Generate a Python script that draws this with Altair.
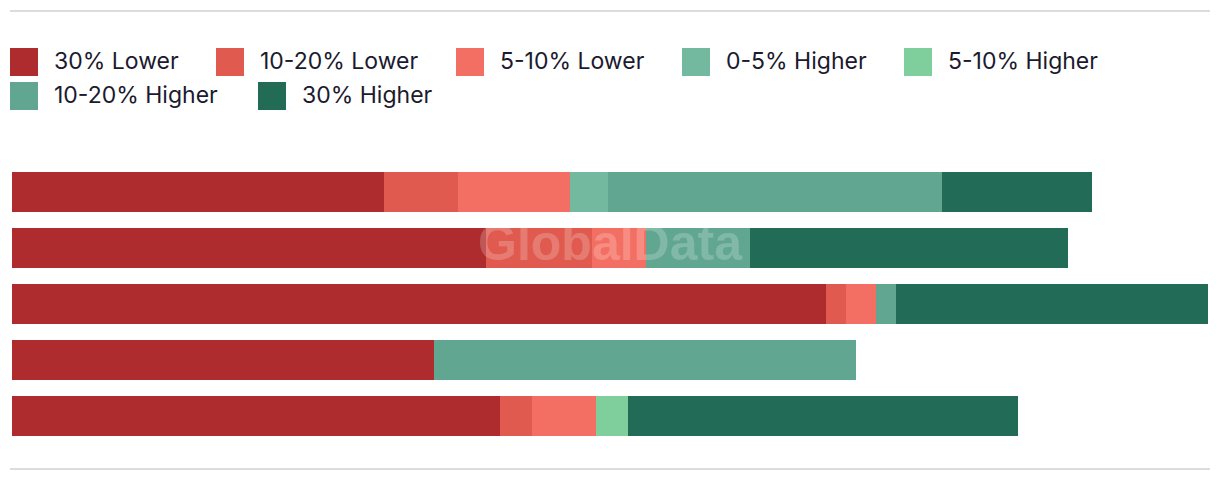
import altair as alt
import pandas as pd

# ---- data ----
rows = ["Group 1", "Group 2", "Group 3", "Group 4", "Group 5"]
series = ["30% Lower", "10-20% Lower", "5-10% Lower", "0-5% Higher",
          "5-10% Higher", "10-20% Higher", "30% Higher"]
colors = ["#AF2C2E", "#E05A4F", "#F46F63", "#72B9A0",
          "#7FCF9C", "#61A690", "#226B57"]

lower30 = [37.2, 47.4, 81.4, 42.2, 48.8]
lower10_20 = [7.4, 10.6, 2.0, 0.0, 3.2]
lower5_10 = [11.2, 5.4, 3.0, 0.0, 6.4]
higher0_5 = [3.8, 0.0, 0.0, 0.0, 0.0]
higher5_10 = [0.0, 0.0, 0.0, 0.0, 3.2]
higher10_20 = [33.4, 10.4, 2.0, 42.2, 0.0]
higher30 = [15.0, 31.8, 31.2, 0.0, 39.0]

watermark = ["GlobalData"]

values_by_series = [lower30, lower10_20, lower5_10, higher0_5,
                    higher5_10, higher10_20, higher30]

recs = []
for si, (s, vals) in enumerate(zip(series, values_by_series)):
    for r, v in zip(rows, vals):
        recs.append({"row": r, "series": s, "order": si, "value": v})
df = pd.DataFrame(recs)
max_total = df.groupby("row")["value"].sum().max()

W, H = 1196, 280
FONT = "Inter"
FS = 23

yenc = alt.Y("row:N", sort=rows, axis=None,
             scale=alt.Scale(paddingInner=16 / 56, paddingOuter=8 / 56))
xscale = alt.Scale(domain=[0, max_total], nice=False, zero=True)

base = alt.Chart(df).transform_window(
    end="sum(value)", groupby=["row"],
    sort=[alt.SortField("order")], frame=[None, 0],
).transform_calculate(start="datum.end - datum.value").transform_filter(
    "datum.value > 0")

legend_common = dict(
    title=None, orient="none", direction="horizontal", columns=5,
    symbolType="square", symbolSize=784, symbolStrokeWidth=0,
    symbolOpacity=1, labelFont=FONT, labelFontSize=FS,
    labelColor="#1b1a2e", labelOffset=16, rowPadding=6, padding=0,
    labelLimit=400,
)

bars_a = base.transform_filter("datum.order < 5").transform_calculate(
    lo="datum.series").mark_bar().encode(
    y=yenc,
    x=alt.X("start:Q", axis=None, scale=xscale),
    x2="end:Q",
    color=alt.Color(
        "lo:N",
        scale=alt.Scale(domain=series[:5], range=colors[:5]),
        legend=alt.Legend(legendX=-2, legendY=-116, columnPadding=37,
                          **legend_common),
    ),
)

bars_b = base.transform_filter("datum.order >= 5").transform_calculate(
    hi="datum.series").mark_bar().encode(
    y=yenc,
    x=alt.X("start:Q", axis=None, scale=xscale),
    x2="end:Q",
    fill=alt.Fill(
        "hi:N",
        scale=alt.Scale(domain=series[5:], range=colors[5:]),
        legend=alt.Legend(legendX=-2, legendY=-82, columnPadding=40,
                          **legend_common),
    ),
)

one = pd.DataFrame({"t": watermark})

mark_wm = alt.Chart(one).mark_text(
    font="Liberation Sans", fontWeight="bold", fontSize=50,
    color="white", opacity=0.2, align="center", baseline="alphabetic",
).encode(text="t:N", x=alt.value(598), y=alt.value(96))

top_rule = alt.Chart(one).mark_rule(color="#dcdcdc", strokeWidth=2).encode(
    x=alt.value(-2), x2=alt.value(1198), y=alt.value(-153))
bottom_rule = alt.Chart(one).mark_rule(color="#dcdcdc", strokeWidth=2).encode(
    x=alt.value(-2), x2=alt.value(1198), y=alt.value(305))

chart = alt.layer(top_rule, bottom_rule, bars_a, bars_b, mark_wm).properties(
    width=W, height=H, background="white",
    autosize=alt.AutoSizeParams(type="none"),
    padding={"left": 4, "top": 156, "right": 4, "bottom": 30},
).resolve_scale(color="independent", fill="independent").configure_view(
    stroke="transparent", strokeWidth=0)

chart.save("out.html", embed_options={"renderer": "svg", "actions": False})
